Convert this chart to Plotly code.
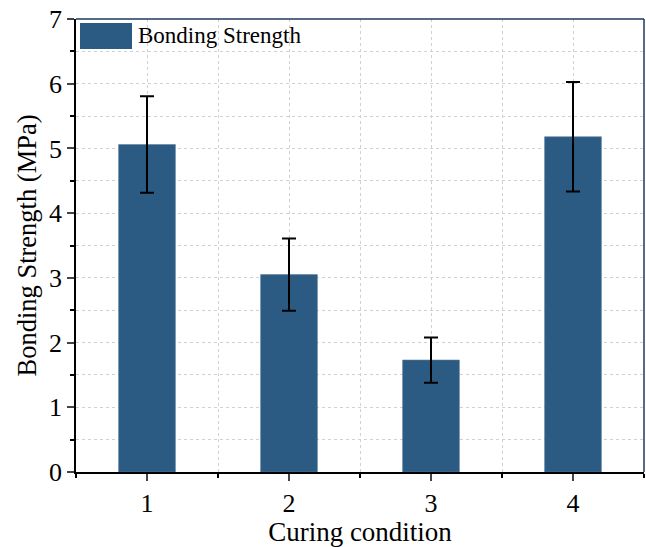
import plotly.graph_objects as go

categories = [1, 2, 3, 4]
strength = [5.06, 3.05, 1.73, 5.18]
errors = [0.745, 0.56, 0.35, 0.845]
series_name = "Bonding Strength"

BAR = "#2b5a83"
FONT = "Liberation Serif"

fig = go.Figure()
fig.add_trace(go.Bar(
    x=categories, y=strength, width=0.4,
    marker=dict(color=BAR, line=dict(width=0.6, color="#5b7fa0")),
    error_y=dict(type="data", array=errors, visible=True, color="black", thickness=2, width=7),
    name=series_name, showlegend=False,
))

fig.update_layout(
    width=646, height=547,
    margin=dict(l=76, r=2, t=19, b=75),
    paper_bgcolor="white", plot_bgcolor="white",
    font=dict(family=FONT, size=26, color="black"),
    xaxis=dict(
        range=[0.5, 4.5], tickvals=categories, ticks="outside", ticklen=7, tickwidth=1.5,
        showline=True, linecolor="black", linewidth=1.5,
        showgrid=True, gridcolor="#d0d0d0", griddash="dot", gridwidth=1,
        minor=dict(dtick=0.5, tick0=0.5, ticks="outside", ticklen=4, tickwidth=1.5, tickcolor="black",
                   showgrid=True, gridcolor="#d0d0d0", griddash="dot"),
        title=dict(text="Curing condition", font=dict(size=27), standoff=6),
        tickfont=dict(size=26), zeroline=False,
    ),
    yaxis=dict(
        range=[0, 7], dtick=1, ticks="outside", ticklen=7, tickwidth=1.5,
        showline=True, linecolor="black", linewidth=1.5,
        showgrid=True, gridcolor="#d0d0d0", griddash="dot", gridwidth=1,
        minor=dict(dtick=0.5, ticks="outside", ticklen=4, tickwidth=1.5, tickcolor="black",
                   showgrid=True, gridcolor="#d0d0d0", griddash="dot"),
        title=dict(text="Bonding Strength (MPa)", font=dict(size=26.5), standoff=5),
        tickfont=dict(size=26), zeroline=False,
    ),
)

# top and right frame lines
fig.add_shape(type="line", xref="paper", yref="paper", x0=0, x1=1, y0=1, y1=1,
              line=dict(color="#1d3a5c", width=1.5))
fig.add_shape(type="line", xref="paper", yref="paper", x0=1, x1=1, y0=0, y1=1,
              line=dict(color="#1d3a5c", width=1.5))

# legend box
fig.add_shape(type="rect", xref="paper", yref="paper",
              x0=4/568, x1=56/568, y0=1-30/453, y1=1-4/453,
              fillcolor=BAR, line=dict(width=0))
fig.add_annotation(xref="paper", yref="paper", x=60/568, y=1-17/453, text=series_name,
                   showarrow=False, xanchor="left", yanchor="middle",
                   font=dict(family=FONT, size=23, color="black"))

fig.write_html("out.html")
